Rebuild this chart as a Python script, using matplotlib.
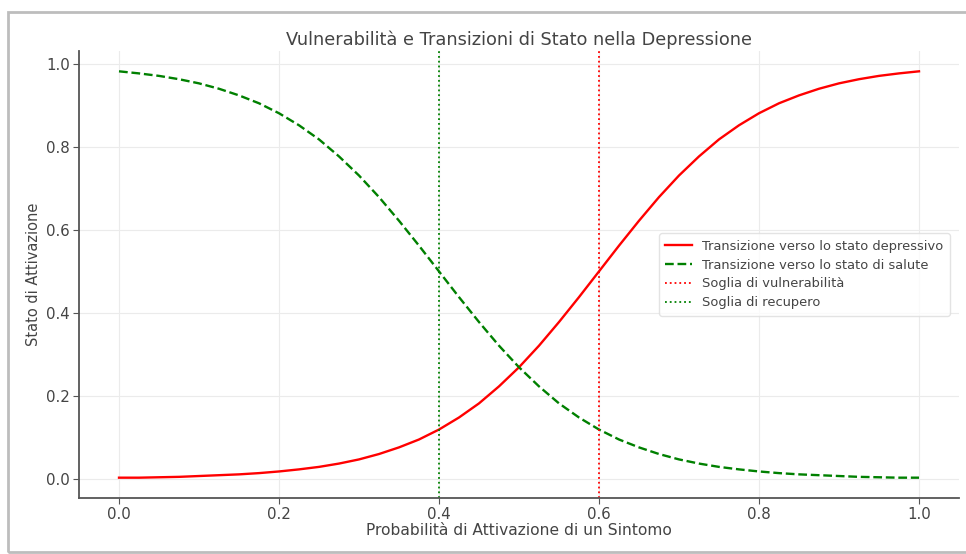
import matplotlib
matplotlib.use("Agg")
import matplotlib.pyplot as plt
from matplotlib.patches import Rectangle
from matplotlib import font_manager

# Data
x_vals = [0.0, 0.025, 0.05, 0.075, 0.1, 0.125, 0.15, 0.175, 0.2, 0.225, 0.25,
          0.275, 0.3, 0.325, 0.35, 0.375, 0.4, 0.425, 0.45, 0.475, 0.5,
          0.525, 0.55, 0.575, 0.6, 0.625, 0.65, 0.675, 0.7, 0.725, 0.75,
          0.775, 0.8, 0.825, 0.85, 0.875, 0.9, 0.925, 0.95, 0.975, 1.0]
depressivo = [0.003, 0.003, 0.004, 0.005, 0.007, 0.009, 0.011, 0.014, 0.018, 0.023, 0.029,
              0.037, 0.047, 0.060, 0.076, 0.095, 0.119, 0.148, 0.182, 0.223, 0.269,
              0.321, 0.378, 0.438, 0.500, 0.562, 0.622, 0.679, 0.731, 0.777, 0.818,
              0.852, 0.881, 0.905, 0.924, 0.940, 0.953, 0.963, 0.971, 0.977, 0.982]
salute = [0.982, 0.977, 0.971, 0.963, 0.953, 0.940, 0.924, 0.905, 0.881, 0.852, 0.818,
          0.777, 0.731, 0.679, 0.622, 0.562, 0.500, 0.438, 0.378, 0.321, 0.269,
          0.223, 0.182, 0.148, 0.119, 0.095, 0.076, 0.060, 0.047, 0.037, 0.029,
          0.023, 0.018, 0.014, 0.011, 0.009, 0.007, 0.005, 0.004, 0.003, 0.003]
soglia_vulnerabilita = 0.6
soglia_recupero = 0.4

title = "Vulnerabilità e Transizioni di Stato nella Depressione"
xlabel = "Probabilità di Attivazione di un Sintomo"
ylabel = "Stato di Attivazione"
labels = ["Transizione verso lo stato depressivo",
          "Transizione verso lo stato di salute",
          "Soglia di vulnerabilità",
          "Soglia di recupero"]

text_color = "#444444"
plt.rcParams['font.family'] = ['DejaVu Sans']
FAM = ['DejaVu Sans']

fig = plt.figure(figsize=(9.66, 5.54), dpi=100)
fig.patch.set_facecolor("white")

# screenshot frame
frame = Rectangle((8 / 966, 2 / 554), 1.2, 540 / 554, transform=fig.transFigure,
                  fill=False, edgecolor="#bdbdbd", linewidth=2.0, zorder=-1)
fig.patches.append(frame)

ax = fig.add_axes([79 / 966, 1 - 498 / 554, (959 - 79) / 966, (498 - 51) / 554])

ax.plot(x_vals, depressivo, color="red", linewidth=1.7, label=labels[0])
ax.plot(x_vals, salute, color="green", linestyle="--", linewidth=1.7, label=labels[1])
ax.axvline(soglia_vulnerabilita, color="red", linestyle=":", linewidth=1.3, label=labels[2])
ax.axvline(soglia_recupero, color="green", linestyle=":", linewidth=1.3, label=labels[3])

ax.set_title(title, fontsize=12.8, color=text_color, pad=4, family=FAM)
ax.set_xlabel(xlabel, fontsize=11.2, color=text_color, labelpad=1, family=FAM)
ax.set_ylabel(ylabel, fontsize=10.5, color=text_color, labelpad=4, family=FAM)

ax.grid(True, color="#ebebeb", linewidth=0.8)
ax.set_axisbelow(True)
for s in ["top", "right"]:
    ax.spines[s].set_visible(False)
for s in ["left", "bottom"]:
    ax.spines[s].set_color("#555555")
    ax.spines[s].set_linewidth(1.3)
ax.tick_params(colors=text_color, labelsize=10.8, length=4, pad=2.5, color="#555555")
ax.set_xticks([0.0, 0.2, 0.4, 0.6, 0.8, 1.0])
ax.set_yticks([0.0, 0.2, 0.4, 0.6, 0.8, 1.0])
for t in ax.get_xticklabels() + ax.get_yticklabels():
    t.set_family(FAM)

leg = ax.legend(loc="center right", frameon=True, borderpad=0.5,
                labelspacing=0.45, handlelength=2.0, bbox_to_anchor=(0.997, 0.5),
                prop=font_manager.FontProperties(family=FAM, size=9.4))
leg.get_frame().set_edgecolor("#dddddd")
for t in leg.get_texts():
    t.set_color(text_color)

fig.savefig("out.png", dpi=100)
